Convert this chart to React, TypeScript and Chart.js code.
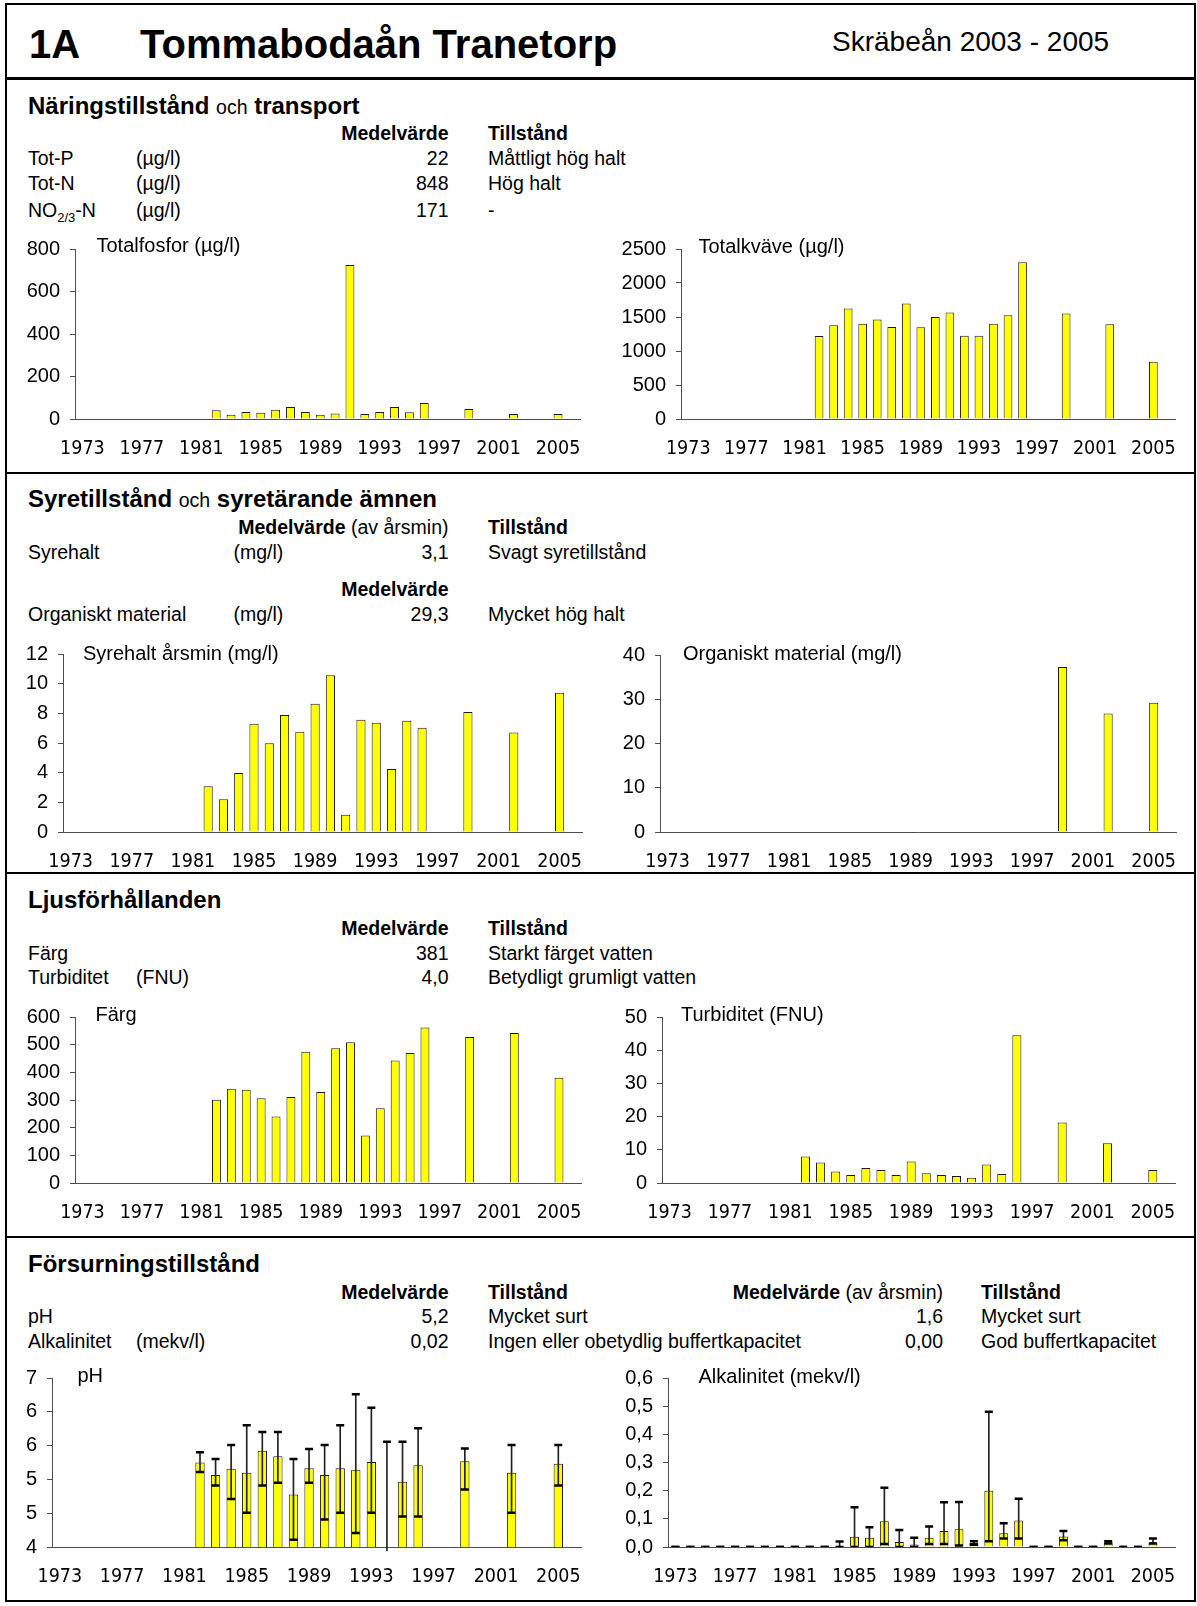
import React, { useEffect, useRef } from 'react';
import { Chart, registerables } from 'chart.js';

Chart.register(...registerables);

const FONT = '"Liberation Sans", Arial, Helvetica, sans-serif';
const NARROW_FONT = '"Liberation Sans Narrow", "Arial Narrow", "DejaVu Sans Condensed", sans-serif';
const AXIS_COLOR = '#4d4d4d';
const BAR_FILL = '#FFFF00';
const BAR_EDGE = '#1a1a1a';

// ---- categories / tick labels ----
const YEARS = [
  '1973', '1974', '1975', '1976', '1977', '1978', '1979', '1980', '1981', '1982',
  '1983', '1984', '1985', '1986', '1987', '1988', '1989', '1990', '1991', '1992',
  '1993', '1994', '1995', '1996', '1997', '1998', '1999', '2000', '2001', '2002',
  '2003', '2004', '2005', '2006',
];
const SHOWN_YEARS = ['1973', '1977', '1981', '1985', '1989', '1993', '1997', '2001', '2005'];
const PH_TICK_LABELS = ['4', '5', '5', '6', '6', '7'];

// ---- series ----
const MAIN_YEARS = [1982, 1983, 1984, 1985, 1986, 1987, 1988, 1989, 1990, 1991, 1992, 1993, 1994, 1995, 1996, 1999, 2002, 2005];
const TOT_P = [41, 20, 33, 29, 43, 56, 33, 20, 26, 725, 23, 33, 56, 32, 75, 47, 24, 23];
const TOT_N = [1222, 1378, 1624, 1402, 1463, 1354, 1700, 1349, 1501, 1567, 1226, 1226, 1402, 1525, 2306, 1553, 1392, 843];
const SYREHALT = [3.09, 2.2, 3.98, 7.3, 5.98, 7.89, 6.76, 8.65, 10.57, 1.17, 7.57, 7.37, 4.24, 7.5, 7.02, 8.09, 6.7, 9.39];
const ORG_YEARS = [1999, 2002, 2005];
const ORGANISKT = [37.3, 26.8, 29.2];
const FARG = [301, 341, 337, 306, 240, 311, 474, 329, 487, 509, 172, 270, 443, 470, 562, 528, 542, 380];
const TURBIDITET = [7.96, 6.2, 3.5, 2.4, 4.5, 3.9, 2.4, 6.5, 2.9, 2.4, 2.1, 1.55, 5.6, 2.7, 44.5, 18.2, 12.0, 3.9];

const PH_MEAN = [5.5, 5.28, 5.39, 5.32, 5.71, 5.61, 4.93, 5.4, 5.28, 5.4, 5.37, 5.51, null, 5.16, 5.45, 5.52, 5.32, 5.48];
const PH_MIN = [5.33, 5.09, 4.85, 4.61, 5.09, 5.14, 4.13, 5.14, 4.49, 4.61, 4.25, 4.61, null, 4.54, 4.54, 5.02, 4.61, 5.09];
const PH_MAX = [5.68, 5.56, 5.81, 6.16, 6.04, 6.04, 5.56, 5.74, 5.81, 6.16, 6.71, 6.47, 5.87, 5.87, 6.11, 5.75, 5.81, 5.81];
const PH_OPEN_LINE_BOTTOM = 3.93; // 1994: line without a minimum, drawn past the axis

const ALK_YEARS = [
  1973, 1974, 1975, 1976, 1977, 1978, 1979, 1980, 1981, 1982, 1983, 1984, 1985, 1986, 1987, 1988, 1989,
  1990, 1991, 1992, 1993, 1994, 1995, 1996, 1997, 1998, 1999, 2000, 2001, 2002, 2003, 2004, 2005,
];
const ALK_MEAN = [
  0, 0, 0, 0, 0, 0, 0, 0, 0, 0, 0, 0.003, 0.036, 0.033, 0.091, 0.018, 0.009,
  0.033, 0.057, 0.063, 0.014, 0.2, 0.049, 0.094, 0, 0, 0.037, 0, 0, 0.016, 0, 0, 0.016,
];
const ALK_MIN = [
  0, 0, 0, 0, 0, 0, 0, 0, 0, 0, 0, 0, 0, 0, 0.011, 0, 0,
  0.011, 0.011, 0.005, 0.008, 0.02, 0.03, 0.03, 0, 0, 0.024, 0, 0, 0.012, 0, 0, 0.012,
];
const ALK_MAX = [
  0, 0, 0, 0, 0, 0, 0, 0, 0, 0, 0, 0.0195, 0.141, 0.07, 0.21, 0.06, 0.033,
  0.073, 0.159, 0.16, 0.02, 0.48, 0.084, 0.171, 0, 0, 0.057, 0, 0, 0.02, 0, 0, 0.03,
];

function slots(years: number[], values: (number | null)[]) {
  return YEARS.map((y) => {
    const i = years.indexOf(Number(y));
    return i >= 0 ? values[i] : null;
  });
}
function whiskerSlots(years: number[], lo: (number | null)[], hi: (number | null)[], openBottom?: number) {
  return YEARS.map((y) => {
    const i = years.indexOf(Number(y));
    if (i < 0 || hi[i] == null) return null;
    const low = lo[i] != null ? lo[i] : openBottom;
    if (low == null) return null;
    return [low, hi[i]];
  });
}

type Spec = {
  key: string;
  canvasLeft: number;
  L: number; R: number; T: number; B: number;
  min: number; max: number; step: number;
  fmt?: (v: number, i: number) => string;
  bars: (number | null)[];
  whisker?: any[];
  capLow?: (number | null)[];
  capHigh?: (number | null)[];
};

const PAD_TOP = 16;
const PAD_RIGHT = 8;
const X_H = 46;

function ChartBox({ spec }: { spec: Spec }) {
  const ref = useRef<HTMLCanvasElement>(null);
  const canvasTop = spec.T - PAD_TOP;
  const width = spec.R + PAD_RIGHT - spec.canvasLeft;
  const height = spec.B + X_H - canvasTop;
  const yW = spec.L - spec.canvasLeft;

  useEffect(() => {
    if (!ref.current) return;
    const datasets: any[] = [
      {
        type: 'bar',
        data: spec.bars,
        backgroundColor: BAR_FILL,
        borderColor: BAR_EDGE,
        borderWidth: 1,
        grouped: false,
        barPercentage: 0.6,
        categoryPercentage: 1,
        order: 3,
      },
    ];
    if (spec.whisker) {
      datasets.push({
        type: 'bar',
        data: spec.whisker,
        backgroundColor: '#222',
        borderWidth: 0,
        barThickness: 1,
        grouped: false,
        order: 2,
        clip: false,
      });
    }
    const capDs = (d: (number | null)[]) => ({
      type: 'line',
      data: d,
      showLine: false,
      pointStyle: 'line',
      pointRadius: 4,
      pointHoverRadius: 4,
      pointBorderWidth: 2.5,
      borderColor: '#000',
      pointBorderColor: '#000',
      backgroundColor: '#000',
      order: 1,
    });
    if (spec.capHigh) datasets.push(capDs(spec.capHigh));
    if (spec.capLow) datasets.push(capDs(spec.capLow));

    const chart = new Chart(ref.current, {
      type: 'bar',
      data: { labels: YEARS, datasets },
      options: {
        animation: false,
        responsive: false,
        devicePixelRatio: 1,
        events: [],
        layout: { padding: { top: PAD_TOP, right: PAD_RIGHT, left: 0, bottom: 0 } },
        plugins: { legend: { display: false }, tooltip: { enabled: false }, title: { display: false } },
        scales: {
          x: {
            type: 'category',
            offset: true,
            grid: { display: false, drawTicks: false },
            border: { display: true, color: AXIS_COLOR, width: 1 },
            ticks: {
              autoSkip: false,
              maxRotation: 0,
              minRotation: 0,
              padding: 18,
              color: '#000',
              font: { family: NARROW_FONT, size: 19.5 },
              callback: (_v: any, i: number) => (SHOWN_YEARS.includes(YEARS[i]) ? YEARS[i] : ''),
            },
            afterFit: (s: any) => {
              s.height = X_H;
            },
          },
          y: {
            type: 'linear',
            min: spec.min,
            max: spec.max,
            grid: { drawOnChartArea: false, drawTicks: true, tickLength: 5, color: AXIS_COLOR },
            border: { display: true, color: AXIS_COLOR, width: 1 },
            ticks: {
              stepSize: spec.step,
              padding: 10,
              color: '#000',
              font: { family: FONT, size: 20 },
              callback: (v: any, i: number) => (spec.fmt ? spec.fmt(Number(v), i) : String(v)),
            },
            afterFit: (s: any) => {
              s.width = yW;
            },
          },
        },
      } as any,
    });
    return () => chart.destroy();
  }, []);

  return (
    <canvas
      ref={ref}
      width={width}
      height={height}
      style={{ position: 'absolute', left: spec.canvasLeft, top: canvasTop, width, height }}
    />
  );
}

const SPECS: Spec[] = [
  { key: 'totp', canvasLeft: 0, L: 75, R: 583, T: 243, B: 419, min: 0, max: 800, step: 200, bars: slots(MAIN_YEARS, TOT_P) },
  { key: 'totn', canvasLeft: 600, L: 681, R: 1178, T: 243, B: 419, min: 0, max: 2500, step: 500, bars: slots(MAIN_YEARS, TOT_N) },
  { key: 'syre', canvasLeft: 0, L: 63, R: 585, T: 648, B: 832, min: 0, max: 12, step: 2, bars: slots(MAIN_YEARS, SYREHALT) },
  { key: 'org', canvasLeft: 600, L: 660, R: 1179, T: 649, B: 832, min: 0, max: 40, step: 10, bars: slots(ORG_YEARS, ORGANISKT) },
  { key: 'farg', canvasLeft: 0, L: 75, R: 584, T: 1011, B: 1183, min: 0, max: 600, step: 100, bars: slots(MAIN_YEARS, FARG) },
  { key: 'turb', canvasLeft: 600, L: 662, R: 1178, T: 1011, B: 1183, min: 0, max: 50, step: 10, bars: slots(MAIN_YEARS, TURBIDITET) },
  {
    key: 'ph', canvasLeft: 0, L: 52, R: 584, T: 1372, B: 1547, min: 4, max: 7, step: 0.6,
    fmt: (_v, i) => PH_TICK_LABELS[i] ?? '',
    bars: slots(MAIN_YEARS, PH_MEAN),
    whisker: whiskerSlots(MAIN_YEARS, PH_MIN, PH_MAX, PH_OPEN_LINE_BOTTOM),
    capLow: slots(MAIN_YEARS, PH_MIN),
    capHigh: slots(MAIN_YEARS, PH_MAX),
  },
  {
    key: 'alk', canvasLeft: 600, L: 668, R: 1178, T: 1372, B: 1547, min: 0, max: 0.6, step: 0.1,
    fmt: (v) => v.toFixed(1).replace('.', ','),
    bars: slots(ALK_YEARS, ALK_MEAN),
    whisker: whiskerSlots(ALK_YEARS, ALK_MIN, ALK_MAX),
    capLow: slots(ALK_YEARS, ALK_MIN),
    capHigh: slots(ALK_YEARS, ALK_MAX),
  },
];

function Txt({ x, y, s = 19.5, b = false, right = false, children }: any) {
  const style: any = {
    position: 'absolute',
    top: y - s / 2,
    fontSize: s,
    lineHeight: `${s}px`,
    fontWeight: b ? 700 : 400,
    whiteSpace: 'nowrap',
    fontFamily: FONT,
    color: '#000',
  };
  if (right) style.right = 1197 - x;
  else style.left = x;
  return <div style={style}>{children}</div>;
}

const Small = ({ children }: any) => <span style={{ fontWeight: 400, fontSize: 19.5 }}>{children}</span>;

function HLine({ y, h = 2 }: { y: number; h?: number }) {
  return <div style={{ position: 'absolute', left: 5, width: 1191, top: y, height: h, background: '#000' }} />;
}

export default function App() {
  const c1 = 28;
  const cUnit = 136;
  const cUnit2 = 233.5;
  const cVal = 448.5;
  const cState = 488;
  const cVal2 = 943;
  const cState2 = 981;
  return (
    <div style={{ position: 'absolute', left: 0, top: 0, width: 1197, height: 1606, background: '#fff', fontFamily: FONT, overflow: 'hidden' }}>
      {/* frame */}
      <div style={{ position: 'absolute', left: 5, top: 3, width: 1191, height: 1599, border: '2px solid #000', boxSizing: 'border-box' }} />
      <HLine y={77} h={3} />
      <HLine y={472} />
      <HLine y={872} />
      <HLine y={1236} />

      {SPECS.map((s) => (
        <ChartBox key={s.key} spec={s} />
      ))}

      {/* header */}
      <Txt x={29} y={44} s={40} b>1A</Txt>
      <Txt x={140} y={44} s={40} b>Tommabodaån Tranetorp</Txt>
      <Txt x={832} y={42} s={28}>Skräbeån 2003 - 2005</Txt>

      {/* section 1 */}
      <Txt x={c1} y={106} s={24} b>Näringstillstånd <Small>och</Small> transport</Txt>
      <Txt x={cVal} y={134} b right>Medelvärde</Txt>
      <Txt x={cState} y={134} b>Tillstånd</Txt>
      <Txt x={c1} y={159}>Tot-P</Txt>
      <Txt x={cUnit} y={159}>(µg/l)</Txt>
      <Txt x={cVal} y={159} right>22</Txt>
      <Txt x={cState} y={159}>Måttligt hög halt</Txt>
      <Txt x={c1} y={183.5}>Tot-N</Txt>
      <Txt x={cUnit} y={183.5}>(µg/l)</Txt>
      <Txt x={cVal} y={183.5} right>848</Txt>
      <Txt x={cState} y={183.5}>Hög halt</Txt>
      <Txt x={c1} y={211}>NO<span style={{ fontSize: 13, position: 'relative', top: 5 }}>2/3</span>-N</Txt>
      <Txt x={cUnit} y={211}>(µg/l)</Txt>
      <Txt x={cVal} y={211} right>171</Txt>
      <Txt x={cState} y={211}>-</Txt>

      {/* section 2 */}
      <Txt x={c1} y={499} s={24} b>Syretillstånd <Small>och</Small> syretärande ämnen</Txt>
      <Txt x={cVal} y={527.5} right><b>Medelvärde</b> (av årsmin)</Txt>
      <Txt x={cState} y={527.5} b>Tillstånd</Txt>
      <Txt x={c1} y={553}>Syrehalt</Txt>
      <Txt x={cUnit2} y={553}>(mg/l)</Txt>
      <Txt x={cVal} y={553} right>3,1</Txt>
      <Txt x={cState} y={553}>Svagt syretillstånd</Txt>
      <Txt x={cVal} y={590} b right>Medelvärde</Txt>
      <Txt x={c1} y={614.5}>Organiskt material</Txt>
      <Txt x={cUnit2} y={614.5}>(mg/l)</Txt>
      <Txt x={cVal} y={614.5} right>29,3</Txt>
      <Txt x={cState} y={614.5}>Mycket hög halt</Txt>

      {/* section 3 */}
      <Txt x={c1} y={900} s={24} b>Ljusförhållanden</Txt>
      <Txt x={cVal} y={929} b right>Medelvärde</Txt>
      <Txt x={cState} y={929} b>Tillstånd</Txt>
      <Txt x={c1} y={953.5}>Färg</Txt>
      <Txt x={cVal} y={953.5} right>381</Txt>
      <Txt x={cState} y={953.5}>Starkt färget vatten</Txt>
      <Txt x={c1} y={978}>Turbiditet</Txt>
      <Txt x={cUnit} y={978}>(FNU)</Txt>
      <Txt x={cVal} y={978} right>4,0</Txt>
      <Txt x={cState} y={978}>Betydligt grumligt vatten</Txt>

      {/* section 4 */}
      <Txt x={c1} y={1264} s={24} b>Försurningstillstånd</Txt>
      <Txt x={cVal} y={1292.5} b right>Medelvärde</Txt>
      <Txt x={cState} y={1292.5} b>Tillstånd</Txt>
      <Txt x={cVal2} y={1292.5} right><b>Medelvärde</b> (av årsmin)</Txt>
      <Txt x={cState2} y={1292.5} b>Tillstånd</Txt>
      <Txt x={c1} y={1317}>pH</Txt>
      <Txt x={cVal} y={1317} right>5,2</Txt>
      <Txt x={cState} y={1317}>Mycket surt</Txt>
      <Txt x={cVal2} y={1317} right>1,6</Txt>
      <Txt x={cState2} y={1317}>Mycket surt</Txt>
      <Txt x={c1} y={1341.5}>Alkalinitet</Txt>
      <Txt x={cUnit} y={1341.5}>(mekv/l)</Txt>
      <Txt x={cVal} y={1341.5} right>0,02</Txt>
      <Txt x={cState} y={1341.5}>Ingen eller obetydlig buffertkapacitet</Txt>
      <Txt x={cVal2} y={1341.5} right>0,00</Txt>
      <Txt x={cState2} y={1341.5}>God buffertkapacitet</Txt>

      {/* chart titles */}
      <Txt x={96.5} y={245} s={20}>Totalfosfor (µg/l)</Txt>
      <Txt x={698.5} y={246} s={20}>Totalkväve (µg/l)</Txt>
      <Txt x={83} y={652.5} s={20}>Syrehalt årsmin (mg/l)</Txt>
      <Txt x={683} y={652.5} s={20}>Organiskt material (mg/l)</Txt>
      <Txt x={95.5} y={1013.5} s={20}>Färg</Txt>
      <Txt x={681} y={1013.5} s={20}>Turbiditet (FNU)</Txt>
      <Txt x={77.5} y={1374.5} s={20}>pH</Txt>
      <Txt x={698.5} y={1375.5} s={20}>Alkalinitet (mekv/l)</Txt>
    </div>
  );
}
